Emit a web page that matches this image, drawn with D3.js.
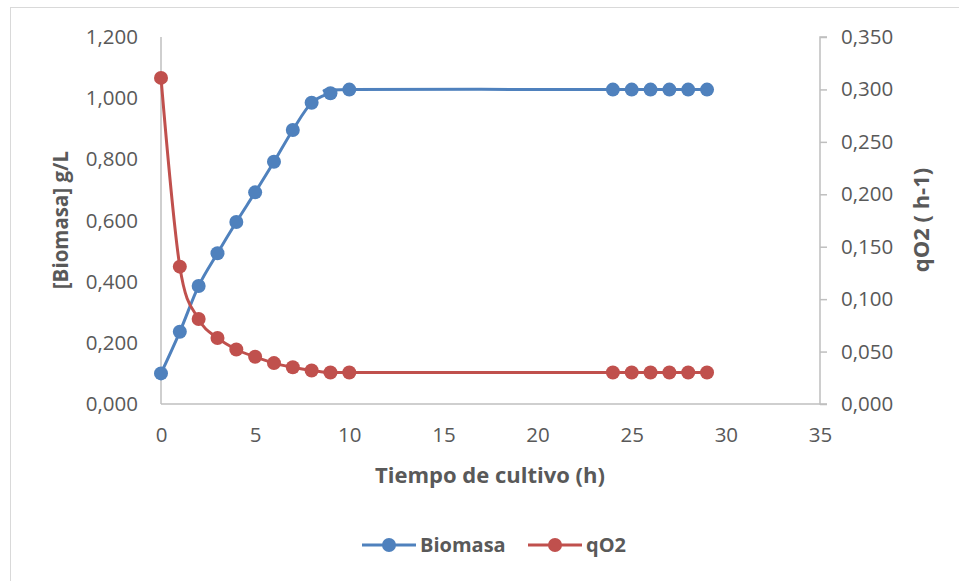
<!DOCTYPE html>
<html>
<head>
<meta charset="utf-8">
<script src="https://cdn.jsdelivr.net/npm/d3@7"></script>
<style>
  html, body { margin: 0; padding: 0; background: #fff; }
  svg { display: block; }
  text { font-family: "Open Sans", "Liberation Sans", sans-serif; fill: #595959; }
</style>
</head>
<body>
<svg id="chart" width="959" height="581"></svg>
<script>
// Culture time (h)
const hours = [0, 1, 2, 3, 4, 5, 6, 7, 8, 9, 10, 24, 25, 26, 27, 28, 29];
// Biomass concentration (g/L)
const biomasa = [0.100, 0.236, 0.386, 0.493, 0.595, 0.692, 0.792, 0.896, 0.985, 1.016, 1.028,
                 1.028, 1.028, 1.028, 1.028, 1.028, 1.028];
// Specific oxygen uptake rate (h-1)
const qO2 = [0.311, 0.131, 0.081, 0.063, 0.052, 0.045, 0.039, 0.035, 0.032, 0.030, 0.030,
             0.030, 0.030, 0.030, 0.030, 0.030, 0.030];
const xTicks = [0, 5, 10, 15, 20, 25, 30, 35];
const leftTicks = [0, 0.2, 0.4, 0.6, 0.8, 1.0, 1.2];
const rightTicks = [0, 0.05, 0.1, 0.15, 0.2, 0.25, 0.3, 0.35];
const seriesNames = ["Biomasa", "qO2"];
const colors = ["#4F81BD", "#C0504D"];

const svg = d3.select("#chart");
const m = { left: 161, right: 820, top: 37, bottom: 404 };

// Chart area border
svg.append("rect").attr("x", 10.5).attr("y", 7.5).attr("width", 960).attr("height", 590)
  .attr("fill", "none").attr("stroke", "#D9D9D9").attr("stroke-width", 1);

const x = d3.scaleLinear().domain([0, 35]).range([m.left, m.right]);
const yL = d3.scaleLinear().domain([0, 1.2]).range([m.bottom, m.top]);
const yR = d3.scaleLinear().domain([0, 0.35]).range([m.bottom, m.top]);

// Decimal comma, three decimals
const fmt = d => d3.format(".3f")(d).replace(".", ",");

const gL = svg.append("g").attr("transform", `translate(${m.left},0)`)
  .call(d3.axisLeft(yL).tickValues(leftTicks).tickSize(0).tickPadding(23).tickFormat(fmt));
const gR = svg.append("g").attr("transform", `translate(${m.right},0)`)
  .call(d3.axisRight(yR).tickValues(rightTicks).tickSize(7).tickPadding(14).tickFormat(fmt));
const gB = svg.append("g").attr("transform", `translate(0,${m.bottom})`)
  .call(d3.axisBottom(x).tickValues(xTicks).tickSize(0).tickPadding(23).tickFormat(d3.format("d")));

[gL, gR, gB].forEach(g => {
  g.select(".domain").attr("stroke", "#BFBFBF").attr("stroke-width", 1.5);
  g.selectAll(".tick line").attr("stroke", "#BFBFBF").attr("stroke-width", 1.5);
  g.selectAll(".tick text").style("font-size", "20.5px").attr("fill", "#595959")
    .style("font-family", "'Open Sans', sans-serif");
});
gL.select(".domain").attr("d", `M0,${m.bottom}V${m.top}`);
gR.select(".domain").attr("d", `M7,${m.top}H0V${m.bottom}H7`);
gB.select(".domain").attr("d", `M${m.left},0H${m.right}`);

// Axis titles
svg.append("text").attr("transform", `translate(68,220) rotate(-90)`)
  .attr("text-anchor", "middle").style("font-size", "20.5px").style("font-weight", "bold")
  .text("[Biomasa] g/L");
svg.append("text").attr("transform", `translate(929,220) rotate(-90)`)
  .attr("text-anchor", "middle").style("font-size", "22px").style("font-weight", "bold")
  .text("qO2 ( h-1)");
svg.append("text").attr("x", 490).attr("y", 483)
  .attr("text-anchor", "middle").style("font-size", "22px").style("font-weight", "bold")
  .text("Tiempo de cultivo (h)");

// Series
const series = [
  { name: seriesNames[0], values: biomasa, y: yL, color: colors[0] },
  { name: seriesNames[1], values: qO2, y: yR, color: colors[1] }
];

series.forEach(s => {
  const pts = hours.map((h, i) => [h, s.values[i]]);
  const line = d3.line().x(d => x(d[0])).y(d => s.y(d[1])).curve(d3.curveCatmullRom.alpha(0));
  svg.append("path").datum(pts).attr("d", line)
    .attr("fill", "none").attr("stroke", s.color).attr("stroke-width", 3)
    .attr("stroke-linejoin", "round");
  svg.append("g").selectAll("circle").data(pts).join("circle")
    .attr("cx", d => x(d[0])).attr("cy", d => s.y(d[1])).attr("r", 7)
    .attr("fill", s.color);
});

// Legend
const legendItems = [
  { name: seriesNames[0], color: colors[0], x0: 362 },
  { name: seriesNames[1], color: colors[1], x0: 528 }
];
const ly = 545;
legendItems.forEach(it => {
  const g = svg.append("g");
  g.append("line").attr("x1", it.x0).attr("x2", it.x0 + 54).attr("y1", ly).attr("y2", ly)
    .attr("stroke", it.color).attr("stroke-width", 3);
  g.append("circle").attr("cx", it.x0 + 27).attr("cy", ly).attr("r", 7).attr("fill", it.color);
  g.append("text").attr("x", it.x0 + 58).attr("y", ly + 7)
    .style("font-size", "20px").style("font-weight", "bold").text(it.name);
});
</script>
</body>
</html>
